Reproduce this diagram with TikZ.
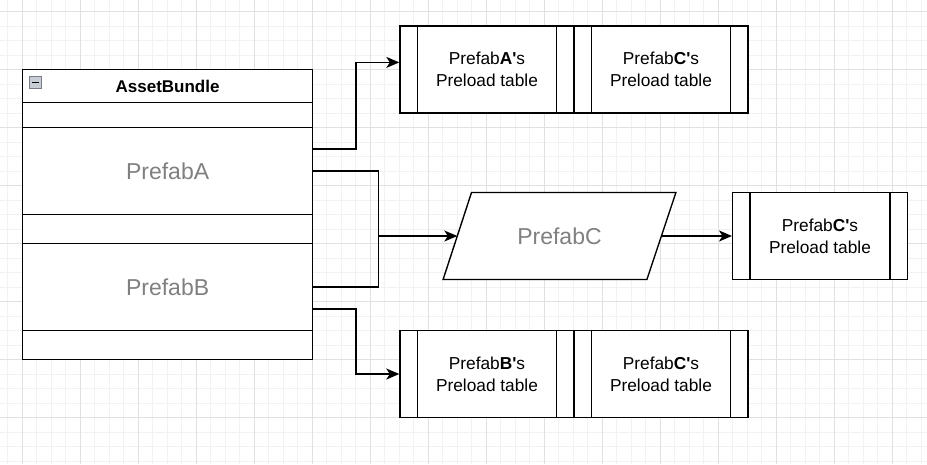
\documentclass[tikz,border=0pt]{standalone}
\usepackage{fontspec}
\setmainfont{Liberation Sans}
\usetikzlibrary{arrows.meta,calc}
\definecolor{gridminor}{RGB}{242,242,242}
\definecolor{gridmajor}{RGB}{224,224,224}
\definecolor{graytext}{RGB}{128,128,128}
\definecolor{iconfill}{RGB}{200,204,212}
\definecolor{iconborder}{RGB}{120,124,134}
\tikzset{
  wire/.style={line width=1.4pt, draw=black},
  arr/.style={wire, -{Stealth[length=13pt,width=11pt,inset=3.5pt]}},
  procbox/.style={draw, fill=white, line width=1.4pt, minimum width=174pt, minimum height=87pt,
    inner sep=0pt, align=center, font=\fontsize{17.3}{21.7}\selectfont,
    path picture={
      \draw[line width=1.4pt] ([xshift=17.3pt]path picture bounding box.north west) -- ([xshift=17.3pt]path picture bounding box.south west);
      \draw[line width=1.4pt] ([xshift=-17.3pt]path picture bounding box.north east) -- ([xshift=-17.3pt]path picture bounding box.south east);
    }},
  rowbox/.style={draw, fill=white, line width=1.4pt, minimum width=290.2pt, inner sep=0pt,
    text=graytext, font=\fontsize{23}{27}\selectfont},
}
\begin{document}
\begin{tikzpicture}[x=1pt,y=-1pt]
\useasboundingbox (0,0) rectangle (927,464);
% grid
\foreach \gx in {7.8,22.3,...,927} \draw[gridminor, line width=1pt] (\gx,0) -- (\gx,464);
\foreach \gy in {11.7,26.2,...,464} \draw[gridminor, line width=1pt] (0,\gy) -- (927,\gy);
\foreach \gx in {22.3,80.3,...,927} \draw[gridmajor, line width=1pt] (\gx,0) -- (\gx,464);
\foreach \gy in {11.7,69.7,...,464} \draw[gridmajor, line width=1pt] (0,\gy) -- (927,\gy);

% AssetBundle container
\node[rowbox, minimum height=33.2pt, text=black, font=\bfseries\fontsize{17}{20}\selectfont] (hdr) at (167.6,86.1) {AssetBundle};
\node[rowbox, minimum height=25pt] (r1) at (167.6,115.2) {};
\node[rowbox, minimum height=86.6pt] (pa) at (167.6,171) {PrefabA};
\node[rowbox, minimum height=29pt] (r2) at (167.6,228.8) {};
\node[rowbox, minimum height=87pt] (pb) at (167.6,286.8) {PrefabB};
\node[rowbox, minimum height=29pt] (r3) at (167.6,344.8) {};
\node[draw=iconborder, fill=iconfill, line width=0.8pt, minimum size=11.5pt, inner sep=0pt] (icon) at (35.5,82.5) {};
\draw[line width=1.6pt] ($(icon.west)+(2.5,0)$) -- ($(icon.east)+(-2.5,0)$);

% Preload table boxes
\node[procbox] (ta) at (487,69.4) {Prefab\textbf{A\textquotesingle}s\\Preload table};
\node[procbox] (tc1) at (661,69.4) {Prefab\textbf{C\textquotesingle}s\\Preload table};
\node[procbox] (tb) at (487,374) {Prefab\textbf{B\textquotesingle}s\\Preload table};
\node[procbox] (tc2) at (661,374) {Prefab\textbf{C\textquotesingle}s\\Preload table};
\node[procbox, minimum width=174.6pt, minimum height=86.6pt] (tc3) at (820,236) {Prefab\textbf{C\textquotesingle}s\\Preload table};

% PrefabC parallelogram
\node[minimum width=232.4pt, minimum height=86.6pt, inner sep=0pt, text=graytext, font=\fontsize{23}{27}\selectfont] (pc) at (559.5,236) {PrefabC};
\draw[line width=1.4pt, fill=white] ($(pc.north west)+(28.4,0)$) -- (pc.north east) -- ($(pc.south east)+(-29,0)$) -- (pc.south west) -- cycle;
\node[text=graytext, font=\fontsize{23}{27}\selectfont] at (pc) {PrefabC};
\coordinate (pcin) at ($(pc.west)+(14.2,0)$);
\coordinate (pcout) at ($(pc.east)+(-14.5,0)$);

% connectors
\coordinate (pa1) at ($(pa.north east)!0.25!(pa.south east)$);
\coordinate (pb3) at ($(pb.north east)!0.75!(pb.south east)$);
\coordinate (taIn) at ($(ta.west)+(0,-7)$);
\draw[arr] (pa1) -- (356,0 |- pa1) |- (taIn);
\draw[arr] (pa.east) -- (378.3,0 |- pa.east) |- (pcin);
\draw[wire] (pb.east) -| (378.3,0 |- pcin);
\draw[arr] (pb3) -- (356,0 |- pb3) |- (tb.west);
\draw[arr] (pcout) -- (tc3.west);
\end{tikzpicture}
\end{document}
